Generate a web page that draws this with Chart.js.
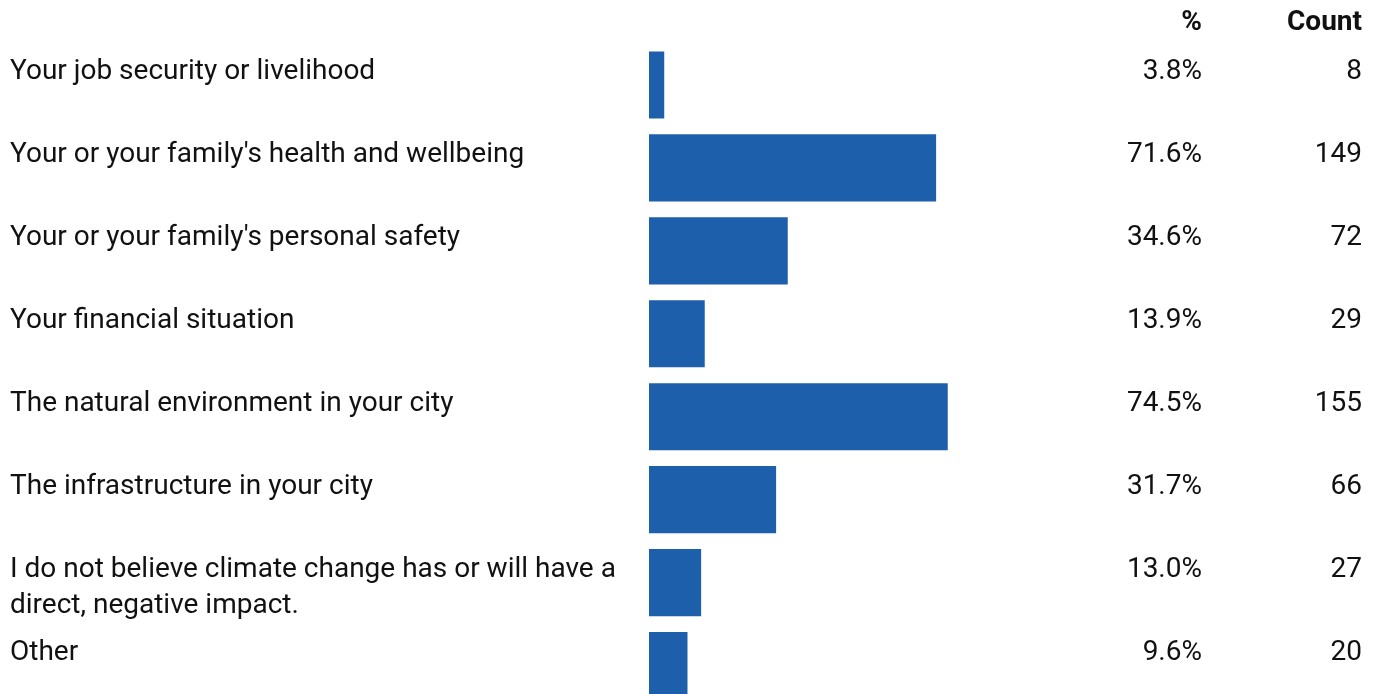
<!DOCTYPE html>
<html>
<head>
<meta charset="utf-8">
<script src="https://cdn.jsdelivr.net/npm/chart.js@4/dist/chart.umd.min.js"></script>
<style>
  html, body { margin: 0; padding: 0; background: #fff; overflow: hidden; }
  #wrap { position: relative; width: 1375px; height: 707px; }
</style>
</head>
<body>
<div id="wrap"><canvas id="impactChart"></canvas></div>
<script>
// Survey: which areas climate change impacts

const categories = [
    ['Your job security or livelihood'],
    ["Your or your family's health and wellbeing"],
    ["Your or your family's personal safety"],
    ['Your financial situation'],
    ['The natural environment in your city'],
    ['The infrastructure in your city'],
    ['I do not believe climate change has or will have a', 'direct, negative impact.'],
    ['Other']
];
const percentValues = [3.8, 71.6, 34.6, 13.9, 74.5, 31.7, 13.0, 9.6];
const countValues = [8, 149, 72, 29, 155, 66, 27, 20];
const columnHeaders = ['%', 'Count'];

const FONT = '"Roboto", "Noto Sans", sans-serif';
const TEXT_COLOR = '#111111';

// draws the row labels and the % / count columns next to each bar
const tableText = {
    id: 'tableText',
    afterDatasetsDraw(chart) {
        const ctx = chart.ctx;
        const yScale = chart.scales.y;
        ctx.save();
        ctx.fillStyle = TEXT_COLOR;
        ctx.textBaseline = 'alphabetic';

        ctx.font = 'bold 28px ' + FONT;
        ctx.textAlign = 'right';
        ctx.fillText(columnHeaders[0], 1202, 30);
        ctx.fillText(columnHeaders[1], 1362, 30);

        ctx.font = '28px ' + FONT;
        categories.forEach(function(lines, i) {
            const top = yScale.getPixelForValue(i) - 33.5;
            const baseline = top + 28;
            ctx.textAlign = 'left';
            lines.forEach(function(line, j) {
                ctx.fillText(line, 10, baseline + j * 36);
            });
            ctx.textAlign = 'right';
            ctx.fillText(percentValues[i].toFixed(1) + '%', 1202, baseline);
            ctx.fillText(String(countValues[i]), 1362, baseline);
        });
        ctx.restore();
    }
};

new Chart(document.getElementById('impactChart'), {
    type: 'bar',
    data: {
        labels: categories.map(function(l) { return l.join(' '); }),
        datasets: [{
            data: percentValues,
            backgroundColor: '#1e5fab',
            borderWidth: 0,
            barPercentage: 0.81,
            categoryPercentage: 1
        }]
    },
    options: {
        indexAxis: 'y',
        responsive: true,
        maintainAspectRatio: false,
        animation: false,
        layout: { padding: { left: 649, right: 325, top: 43.5, bottom: 0 } },
        plugins: {
            legend: { display: false },
            tooltip: { enabled: false }
        },
        scales: {
            x: { display: false, min: 0, max: 100 },
            y: { display: false }
        }
    },
    plugins: [tableText]
});
</script>
</body>
</html>
